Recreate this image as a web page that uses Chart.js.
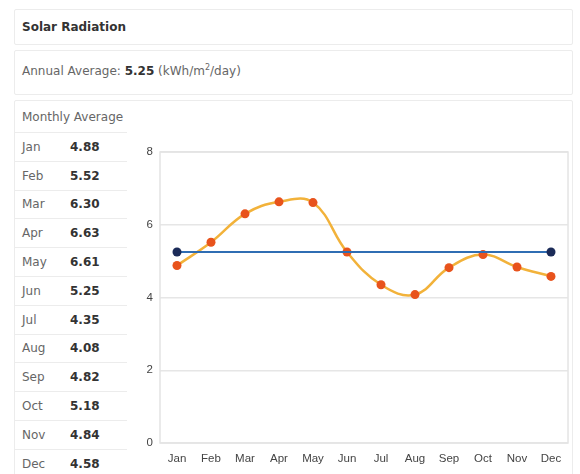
<!DOCTYPE html>
<html>
<head>
<meta charset="utf-8">
<script src="https://cdn.jsdelivr.net/npm/chart.js@4/dist/chart.umd.min.js"></script>
<style>
  html, body { margin:0; padding:0; background:#fff; width:580px; height:474px; overflow:hidden; }
  body { position:relative; font-family:"DejaVu Sans", Verdana, sans-serif; font-size:12px; color:#666; }
  .box { position:absolute; left:14px; width:559px; border:1px solid #ececec; border-radius:2px; box-sizing:border-box; }
  .txt { position:absolute; white-space:nowrap; }
  b { color:#333; }
  #tbl { position:absolute; left:15px; top:133px; width:112px; }
  .row { position:relative; height:28.8px; border-bottom:1px solid #ececec; box-sizing:border-box; }
  .row span { position:absolute; top:50%; transform:translateY(-50%); }
  .row .m { left:7px; }
  .row .v { left:55px; font-weight:bold; color:#333; }
  #wrap { position:absolute; left:130px; top:130px; width:446px; height:344px; }
</style>
</head>
<body>
<div class="box" style="top:9px;height:36px;"></div>
<div class="box" style="top:50px;height:45px;"></div>
<div class="box" style="top:100px;height:380px;"></div>
<div class="txt" style="left:22px;top:20px;"><b id="title"></b></div>
<div class="txt" id="annual" style="left:22px;top:63px;"></div>
<div class="txt" style="left:22px;top:110px;">Monthly Average</div>
<div style="position:absolute;left:15px;top:132px;width:112px;border-top:1px solid #ececec;"></div>
<div id="tbl"></div>
<div id="wrap"><canvas id="c" width="446" height="344"></canvas></div>
<script>
const title = "Solar Radiation";
const annualAverage = 5.25;
const months = ["Jan","Feb","Mar","Apr","May","Jun","Jul","Aug","Sep","Oct","Nov","Dec"];
const monthly = [4.88, 5.52, 6.30, 6.63, 6.61, 5.25, 4.35, 4.08, 4.82, 5.18, 4.84, 4.58];
const annualLine = [5.25, 5.25, 5.25, 5.25, 5.25, 5.25, 5.25, 5.25, 5.25, 5.25, 5.25, 5.25];
const yTicks = [0, 2, 4, 6, 8];

document.getElementById('title').textContent = title;
document.getElementById('annual').innerHTML = 'Annual Average: <b>' + annualAverage.toFixed(2) + '</b> (kWh/m<sup style="font-size:8px;">2</sup>/day)';
const tbl = document.getElementById('tbl');
months.forEach((m, i) => {
  const r = document.createElement('div');
  r.className = 'row';
  r.innerHTML = '<span class="m">' + m + '</span><span class="v">' + monthly[i].toFixed(2) + '</span>';
  tbl.appendChild(r);
});

const frame = {
  id: 'frame',
  beforeDatasetsDraw(chart) {
    const a = chart.chartArea, ctx = chart.ctx;
    ctx.save();
    ctx.strokeStyle = '#e4e4e4';
    ctx.lineWidth = 1.5;
    ctx.strokeRect(a.left, a.top, a.right - a.left, a.bottom - a.top);
    ctx.restore();
  }
};

new Chart(document.getElementById('c'), {
  type: 'line',
  data: {
    labels: months,
    datasets: [
      {
        label: 'Annual Average',
        data: annualLine,
        borderColor: '#2f6db3',
        borderWidth: 2,
        pointBackgroundColor: '#1b2b58',
        pointBorderWidth: 0,
        pointRadius: ctx => (ctx.dataIndex === 0 || ctx.dataIndex === months.length - 1) ? 4.5 : 0,
        tension: 0
      },
      {
        label: 'Monthly Average',
        data: monthly,
        borderColor: '#f2b23a',
        borderWidth: 2.5,
        pointBackgroundColor: '#e8531c',
        pointBorderWidth: 0,
        pointRadius: 4.5,
        tension: 0.4
      }
    ]
  },
  options: {
    responsive: false,
    devicePixelRatio: 1,
    animation: false,
    layout: { padding: { top: 22, right: 8, left: 0, bottom: 0 } },
    plugins: { legend: { display: false }, tooltip: { enabled: false } },
    scales: {
      x: {
        offset: true,
        grid: { display: false, drawTicks: false },
        border: { display: false },
        ticks: { padding: 9, color: '#444', font: { family: 'Liberation Sans', size: 11.5 }, maxRotation: 0, autoSkip: false },
        afterFit: s => { s.height = 31; }
      },
      y: {
        min: 0, max: 8,
        afterBuildTicks: s => { s.ticks = yTicks.map(v => ({ value: v })); },
        grid: { color: '#e6e6e6', lineWidth: 1.5, drawTicks: false },
        border: { display: false },
        ticks: { padding: 7, color: '#444', font: { family: 'Liberation Sans', size: 11.5 } },
        afterFit: s => { s.width = 30; }
      }
    }
  },
  plugins: [frame]
});
</script>
</body>
</html>
